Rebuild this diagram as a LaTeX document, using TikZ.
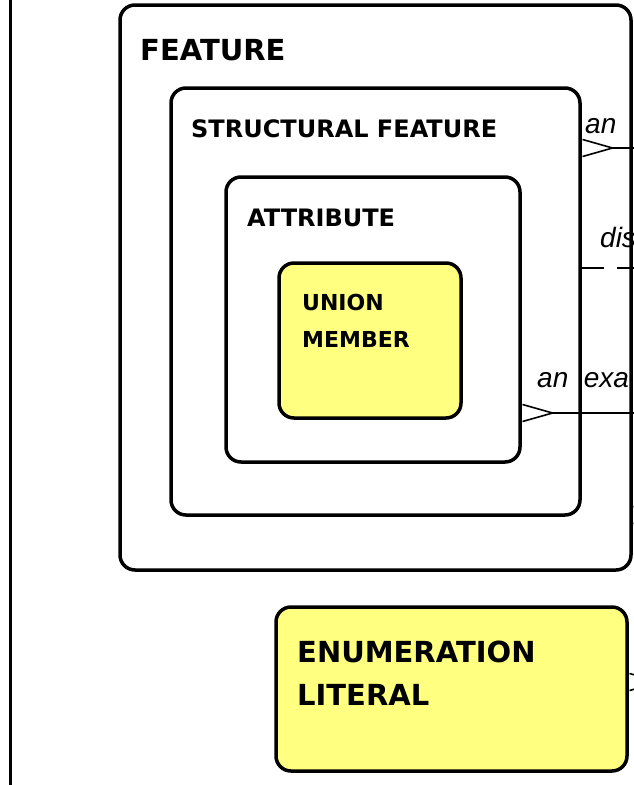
\documentclass[tikz,border=0pt]{standalone}
\usepackage{fontspec}
\setmainfont{DejaVu Sans}
\newfontfamily\phrasefont{Liberation Sans}
\usetikzlibrary{arrows.meta}
\definecolor{entyellow}{RGB}{255,255,128}

\begin{document}
\begin{tikzpicture}[x=1pt,y=-1pt,
	box/.style={draw, line width=3.5pt, rounded corners=15pt, inner sep=0pt},
	entity/.style={box, fill=entyellow},
	title/.style={anchor=base west, inner sep=0pt, align=left},
	rel/.style={line width=1.6pt},
	many/.style={{Straight Barb[reversed,length=30pt,width=17pt,line width=1.6pt]}-},
	phrase/.style={anchor=base west, inner sep=0pt, font=\phrasefont\itshape\fontsize{28}{32}\selectfont}]
		\useasboundingbox (0,0) rectangle (634,785);
		\draw
		node[box, minimum width=511pt, minimum height=565pt] at (375.5,287.5) (feat) {}
		node[box, minimum width=409pt, minimum height=427pt] at (375.5,301.5) (sf) {}
		node[box, minimum width=294pt, minimum height=285pt] at (373,319.5) (attr) {}
		node[entity, minimum width=182pt, minimum height=155pt] at (370,340.5) (um) {}
		node[entity, minimum width=351pt, minimum height=164pt] at (451.5,689) (el) {};
		% entity names (base = last line)
		\draw
		node[title, font=\bfseries\fontsize{29}{34}\selectfont] at (140,60) (featName) {FEATURE}
		node[title, font=\bfseries\fontsize{24}{30}\selectfont] at (191,137) (sfName) {STRUCTURAL FEATURE}
		node[title, font=\bfseries\fontsize{24}{30}\selectfont] at (247,226) (attrName) {ATTRIBUTE}
		node[title, font=\bfseries\fontsize{22}{37}\selectfont] at (302,347) (umName) {UNION\\MEMBER}
		node[title, font=\bfseries\fontsize{29}{43}\selectfont] at (297,705) (elName) {ENUMERATION\\LITERAL};
		% relationship ends
		\coordinate (leftTop) at (10,-5);
		\coordinate (leftBot) at (10,790);
		\coordinate (anEnd) at (660,148);
		\coordinate (disEnd) at (660,268);
		\coordinate (exaEnd) at (660,413);
		\coordinate (featEnd) at (660,515);
		\coordinate (litEnd) at (660,682);
		\draw[line width=3pt] (leftTop) -- (leftBot);
		\draw[rel, many] (sf.east |- anEnd) -- (anEnd);
		\draw[rel, dash pattern=on 22pt off 13pt] (sf.east |- disEnd) -- (disEnd);
		\draw[rel, many] (attr.east |- exaEnd) -- (exaEnd);
		\draw[rel, many] (feat.east |- featEnd) -- (featEnd);
		\draw[rel, many] (el.east |- litEnd) -- (litEnd);
		\draw
		node[phrase] at (585,133) (anLbl) {an}
		node[phrase] at (600,247) (disLbl) {dis}
		node[phrase] at (537,387) (exaLbl) {an\ \ exa};
	\end{tikzpicture}
\end{document}
